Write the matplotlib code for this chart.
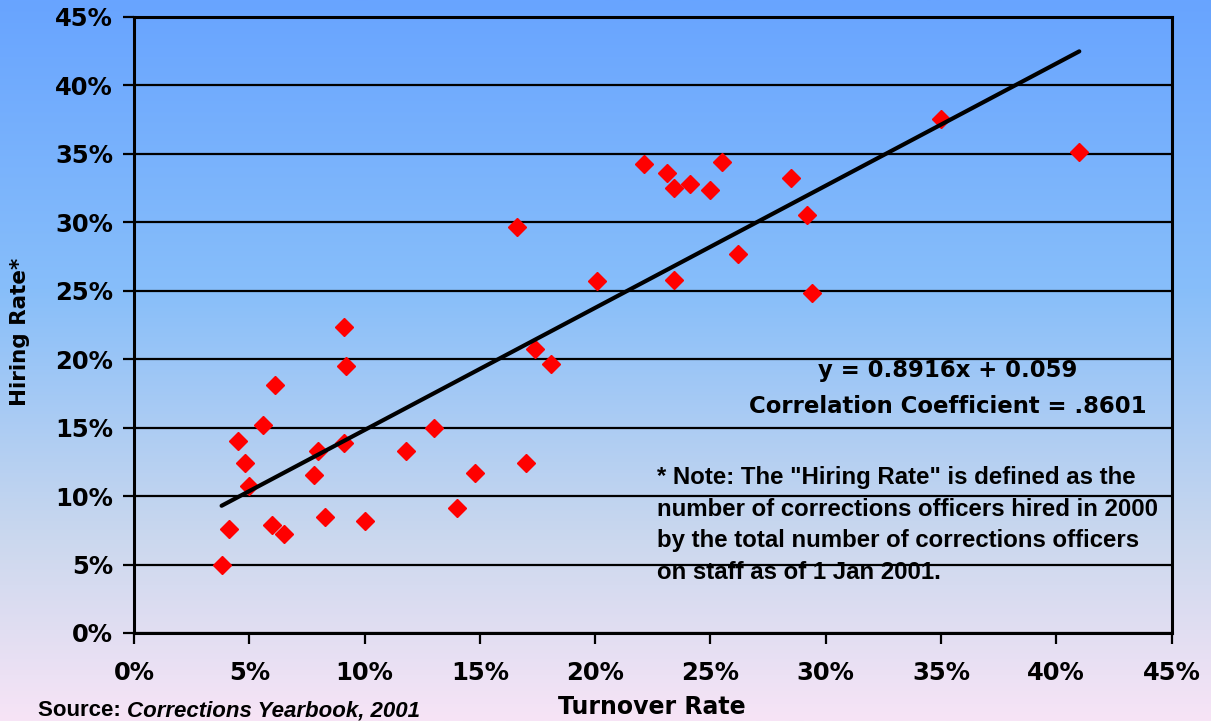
import numpy as np
import matplotlib
matplotlib.use("Agg")
from matplotlib import pyplot as plt
from matplotlib.colors import LinearSegmentedColormap
from matplotlib.ticker import FuncFormatter, MultipleLocator

# turnover vs hiring rate by agency (percent)
turnover = [3.8, 4.1, 4.5, 4.8, 5.0, 5.6, 6.1, 6.0, 6.5, 7.8,
			8.0, 8.3, 9.1, 9.2, 9.1, 10.0, 11.8, 13.0, 14.0, 14.8,
			16.6, 17.0, 17.4, 18.1, 20.1, 22.1, 23.1, 23.4, 24.1, 25.0,
			25.5, 23.4, 26.2, 28.5, 29.2, 29.4, 35.0, 41.0]
hiring = [5.0, 7.6, 14.0, 12.4, 10.7, 15.2, 18.1, 7.9, 7.2, 11.5,
		  13.3, 8.5, 22.3, 19.5, 13.9, 8.2, 13.3, 15.0, 9.1, 11.7,
		  29.6, 12.4, 20.7, 19.6, 25.7, 34.2, 33.6, 32.5, 32.8, 32.3,
		  34.4, 25.8, 27.7, 33.2, 30.5, 24.8, 37.5, 35.1]

slope = 0.8916
intercept = 0.059

W, H = 1211, 721
fig = plt.figure(figsize=(W/100, H/100), dpi=100)

# vertical gradient behind everything
bg = fig.add_axes([0, 0, 1, 1], zorder=-10)
grad_cmap = LinearSegmentedColormap.from_list("bg", [
	(0.0, (104/255, 164/255, 255/255)),
	(0.4, (135/255, 190/255, 250/255)),
	(0.75, (203/255, 216/255, 238/255)),
	(1.0, (247/255, 228/255, 246/255)),
])
bg.imshow(np.linspace(0, 1, 256).reshape(-1, 1), aspect="auto", cmap=grad_cmap,
		  extent=[0, 1, 0, 1])
bg.axis("off")

ax = fig.add_axes([134/W, 1-633/H, (1171.5-134)/W, (633-16.5)/H])
ax.patch.set_alpha(0)

x = np.array(turnover) / 100
y = np.array(hiring) / 100
ax.plot(x, y, linestyle="none", marker="D", markersize=9, color="#ff0000",
		markeredgecolor="#ff0000", zorder=3)

# fitted line over the data range
fx = np.array([x.min(), x.max()])
ax.plot(fx, slope*fx + intercept, color="black", linewidth=3, zorder=4,
		solid_capstyle="round")

ax.set_xlim(0, 0.45)
ax.set_ylim(0, 0.45)
ax.xaxis.set_major_locator(MultipleLocator(0.05))
ax.yaxis.set_major_locator(MultipleLocator(0.05))
pct = FuncFormatter(lambda v, p: "%d%%" % round(v*100))
ax.xaxis.set_major_formatter(pct)
ax.yaxis.set_major_formatter(pct)
ax.grid(axis="y", color="black", linewidth=1.6)
ax.set_axisbelow(True)
for s in ax.spines.values():
	s.set_linewidth(2.2)
	s.set_color("black")
ax.tick_params(direction="out", length=8, width=1.6, colors="black")
ax.tick_params(axis="x", pad=12)
ax.tick_params(axis="y", pad=7)
for lbl in ax.get_xticklabels() + ax.get_yticklabels():
	lbl.set_fontfamily("DejaVu Sans")
	lbl.set_fontweight("bold")
	lbl.set_fontsize(17.5)

fig.text(652/W, 1-707/H, "Turnover Rate", ha="center", va="center",
		 fontsize=17, fontweight="bold", family="DejaVu Sans")
fig.text(20/W, 1-332/H, "Hiring Rate*", ha="center", va="center", rotation=90,
		 fontsize=15.5, fontweight="bold", family="DejaVu Sans")

fig.text(948/W, 1-377/H, "y = 0.8916x + 0.059", ha="center", va="baseline",
		 fontsize=16.4, fontweight="bold", family="DejaVu Sans")
fig.text(948/W, 1-413/H, "Correlation Coefficient = .8601", ha="center", va="baseline",
		 fontsize=16.4, fontweight="bold", family="DejaVu Sans")

note = ['* Note: The "Hiring Rate" is defined as the',
		"number of corrections officers hired in 2000",
		"by the total number of corrections officers",
		"on staff as of 1 Jan 2001."]
for i, line in enumerate(note):
	fig.text(657/W, 1-(484+31.7*i)/H, line, ha="left", va="baseline",
			 fontsize=17.3, fontweight="bold", family="Liberation Sans")

t = fig.text(38/W, 1-716/H, "Source: ", ha="left", va="baseline",
			 fontsize=16, fontweight="bold", family="Liberation Sans")
fig.canvas.draw()
bb = t.get_window_extent()
fig.text(bb.x1/W, 1-716/H, "Corrections Yearbook, 2001", ha="left", va="baseline",
		 fontsize=16, fontweight="bold", style="italic", family="Liberation Sans")

plt.savefig("out.png", dpi=100)
